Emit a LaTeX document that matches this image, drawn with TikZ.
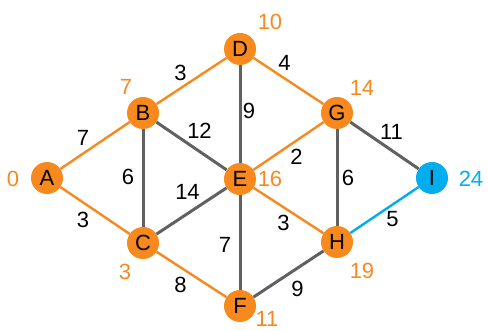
\documentclass[tikz,border=0pt]{standalone}
\usepackage{fontspec}
\setmainfont{Liberation Sans}
\usepackage{xcolor}
\usetikzlibrary{positioning}

\definecolor{done}{HTML}{F7891F}
\definecolor{last}{HTML}{00AEEF}
\definecolor{wire}{HTML}{616161}

\begin{document}
\begin{tikzpicture}[
      x=1pt, y=-1pt,
      font=\fontsize{22}{24}\selectfont,
      vert/.style={circle, fill=done, inner sep=0pt, minimum size=32pt},
      goal/.style={vert, fill=last},
      edge/.style={draw=wire, line width=3pt},
      tree/.style={draw=done, line width=2.4pt},
      hop/.style={draw=last, line width=2.4pt},
      wlbl/.style={inner sep=0pt, text=black},
      dlbl/.style={inner sep=0pt, text=done},
    ]
    \useasboundingbox (0,0) rectangle (488,331);

    % --- vertices --------------------------------------------------------
    \node[vert] (A) at ( 47,178) {A};
    \node[vert] (B) at (143,113) {B};
    \node[vert] (C) at (143,243) {C};
    \node[vert] (D) at (240, 49) {D};
    \node[vert] (E) at (240,179) {E};
    \node[vert] (F) at (240,306) {F};
    \node[vert] (G) at (337,113) {G};
    \node[vert] (H) at (337,242) {H};
    \node[goal] (I) at (432,178) {I};

    % --- distances found so far -------------------------------------------
    \node[dlbl] (dA) at ( 13,179) {0};
    \node[dlbl] (dB) at (126, 87) {7};
    \node[dlbl] (dC) at (125,272) {3};
    \node[dlbl] (dD) at (270, 22) {10};
    \node[dlbl] (dE) at (270,179) {16};
    \node[dlbl] (dF) at (267,319) {11};
    \node[dlbl] (dG) at (362, 88) {14};
    \node[dlbl] (dH) at (362,271) {19};
    \node[dlbl, text=last] (dI) at (471,179) {24};

    % --- edges left out of the tree ---------------------------------------
    \draw[edge] (B) -- node[wlbl, shift={(  8,-15)}] {12} (E);
    \draw[edge] (B) -- node[wlbl, shift={(-15, -1)}] {6}  (C);
    \draw[edge] (C) -- node[wlbl, shift={( -4,-19)}] {14} (E);
    \draw[edge] (D) -- node[wlbl, shift={(  9, -3)}] {9}  (E);
    \draw[edge] (E) -- node[wlbl, shift={(-15,  2)}] {7}  (F);
    \draw[edge] (G) -- node[wlbl, shift={( 11,  0)}] {6}  (H);
    \draw[edge] (G) -- node[wlbl, shift={(  7,-14)}] {11} (I);
    \draw[edge] (H) -- node[wlbl, shift={(  9, 15)}] {9}  (F);

    % --- shortest-path tree ------------------------------------------------
    \draw[tree] (A) -- node[wlbl, shift={(-12, -8)}] {7} (B);
    \draw[tree] (A) -- node[wlbl, shift={(-12,  9)}] {3} (C);
    \draw[tree] (B) -- node[wlbl, shift={(-11, -8)}] {3} (D);
    \draw[tree] (D) -- node[wlbl, shift={( -4,-18)}] {4} (G);
    \draw[tree] (E) -- node[wlbl, shift={(  8, 11)}] {2} (G);
    \draw[tree] (E) -- node[wlbl, shift={( -5, 12)}] {3} (H);
    \draw[tree] (C) -- node[wlbl, shift={(-11, 10)}] {8} (F);
    \draw[hop]  (H) -- node[wlbl, shift={(  8,  9)}] {5} (I);
  \end{tikzpicture}
\end{document}
